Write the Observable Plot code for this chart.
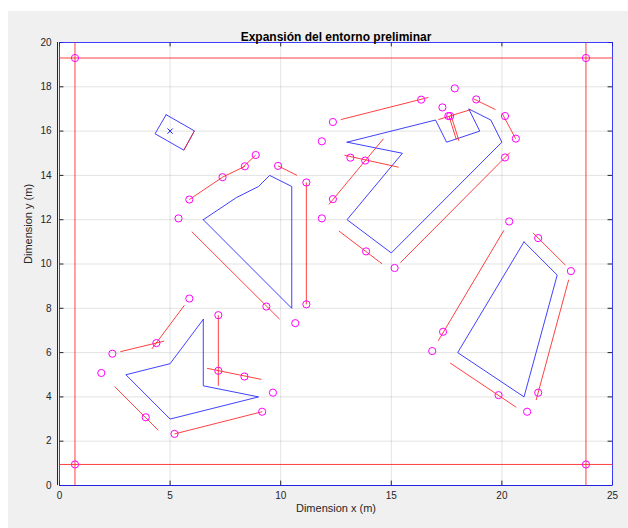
<!DOCTYPE html>
<html><head><meta charset="utf-8">
<script src="https://cdn.jsdelivr.net/npm/d3@7"></script>
<script src="https://cdn.jsdelivr.net/npm/@observablehq/plot@0.6"></script>
<style>
html,body{margin:0;padding:0;background:#ffffff;}
#chart svg{display:block;}
</style></head><body><div id="chart"></div>
<script>
const titleText = "Expansión del entorno preliminar";
const xLabel = "Dimension x (m)";
const yLabel = "Dimension y (m)";
const xTicks = [0, 5, 10, 15, 20, 25];
const yTicks = [0, 2, 4, 6, 8, 10, 12, 14, 16, 18, 20];

// Outer boundary of the environment
const boundary = [[0,0],[25,0],[25,20],[0,20]];
// Obstacles (blue polygons)
const obstacle1 = [[4.82,16.74],[6.10,16.01],[5.62,15.14],[4.32,15.88]];
const obstacle2 = [[6.5,12],[8,13],[9,13.5],[9.5,14],[10.5,13.5],[10.5,8]];
const obstacle3 = [[13,15.5],[17,16.5],[17.5,15.5],[19,16],[18.5,17],[19.5,16.5],[20,15.5],[15,10.5],[13,12],[15.5,15]];
const obstacle4 = [[6.5,7.5],[5,5.5],[3,5],[5,3],[9,4],[6.5,4.5]];
const obstacle5 = [[21,11],[22.5,9.5],[21,4],[18,6]];
const centerMarks = [[5,16]];

// Expanded edges (red segments) [x1,y1,x2,y2]
const boundaryEdges = [[0.7,0,0.7,20],[23.8,0,23.8,20],[0,0.95,25,0.95],[0,19.3,25,19.3]];
const edges1 = [[6.10,16.01,5.62,15.14]];
const edges2 = [[5.87,12.91,7.37,13.92],[7.37,13.92,8.38,14.41],[8.23,14.31,8.87,14.92],[9.88,14.43,10.74,14.0],[11.16,13.68,11.16,8.18],[5.98,11.46,9.95,7.51]];
const edges3 = [[12.72,16.52,16.68,17.52],[12.88,14.91,15.33,14.37],[12.18,12.69,14.64,15.65],[12.63,11.49,14.58,10.01],[15.41,10.06,20.36,15.03],[20.01,16.80,20.62,15.66],[18.71,17.46,19.71,16.97],[17.13,16.52,18.59,16.97],[17.69,16.74,18.06,15.56],[17.61,16.67,17.94,15.62]];
const edges4 = [[2.75,6.04,4.73,6.52],[4.17,6.16,5.65,8.14],[2.49,4.47,4.47,2.49],[5.2,2.33,9.16,3.33],[6.67,5.29,9.13,4.79],[7.18,7.69,7.18,4.5]];
const edges5 = [[20.09,11.52,17.12,6.53],[17.66,5.53,20.65,3.53],[23.02,9.29,21.55,3.86],[21.4,11.41,22.87,9.95]];

// Vertex points (magenta circles)
const pointsBoundary = [[0.7,19.3],[23.8,19.3],[0.7,0.95],[23.8,0.95]];
const points2 = [[5.87,12.91],[7.37,13.92],[8.38,14.41],[8.87,14.92],[9.88,14.43],[11.16,13.68],[11.16,8.18],[9.35,8.08],[10.66,7.33],[5.38,12.06]];
const points3 = [[12.36,16.41],[16.35,17.42],[11.86,15.54],[13.15,14.8],[13.82,14.67],[12.36,12.93],[11.86,12.06],[13.86,10.57],[15.15,9.82],[20.14,14.81],[20.63,15.66],[20.14,16.68],[18.84,17.43],[17.87,17.93],[17.31,17.07],[17.58,16.68],[17.66,16.68]];
const points4 = [[2.39,5.95],[4.38,6.43],[5.87,8.44],[1.89,5.08],[3.90,3.08],[5.2,2.33],[9.16,3.33],[9.65,4.19],[7.18,5.18],[8.36,4.92],[7.18,7.69]];
const points5 = [[20.33,11.92],[17.34,6.94],[16.85,6.07],[19.85,4.08],[21.14,3.33],[21.64,4.19],[23.12,9.68],[21.64,11.17]];

const polygons = [boundary, obstacle1, obstacle2, obstacle3, obstacle4, obstacle5];
const polyRows = polygons.flatMap((p, i) => [...p, p[0]].map(([x, y]) => ({x, y, id: i})));
const segments = [...boundaryEdges, ...edges1, ...edges2, ...edges3, ...edges4, ...edges5];
const points = [...pointsBoundary, ...points2, ...points3, ...points4, ...points5];

const font = "'Liberation Sans', Arial, Helvetica, sans-serif";
const axisColor = "#262626";

const chart = Plot.plot({
  width: 628, height: 528,
  marginLeft: 59, marginRight: 16, marginTop: 42, marginBottom: 43,
  style: {fontFamily: font, fontSize: "10px", color: axisColor},
  x: {domain: [0, 25], label: null},
  y: {domain: [0, 20], label: null},
  marks: [
    Plot.frame({fill: "white", stroke: "none"}),
    Plot.gridX(xTicks, {stroke: axisColor, strokeOpacity: 0.13}),
    Plot.gridY(yTicks, {stroke: axisColor, strokeOpacity: 0.13}),
    Plot.axisX(xTicks, {tickSize: 0, tickPadding: 6, fill: axisColor, fontSize: 10}),
    Plot.axisY(yTicks, {tickSize: 0, tickPadding: 8, fill: axisColor, fontSize: 10}),
    Plot.ruleX(xTicks, {y1: 0, y2: 0.2, stroke: axisColor}),
    Plot.ruleX(xTicks, {y1: 20, y2: 19.8, stroke: axisColor}),
    Plot.ruleY(yTicks, {x1: 0, x2: 0.2, stroke: axisColor}),
    Plot.ruleY(yTicks, {x1: 25, x2: 24.8, stroke: axisColor}),
    Plot.ruleX([0], {stroke: axisColor, dx: -2}),
    Plot.ruleY([0], {stroke: axisColor}),
    Plot.line(polyRows, {x: "x", y: "y", z: "id", stroke: "#2020ff", strokeWidth: 1, strokeOpacity: 0.85}),
    Plot.link(segments, {x1: d => d[0], y1: d => d[1], x2: d => d[2], y2: d => d[3], stroke: "#ff2020", strokeWidth: 1, strokeOpacity: 0.85}),
    Plot.dot(points, {x: d => d[0], y: d => d[1], r: 3.6, stroke: "#ff00ff", fill: "none", strokeWidth: 1}),
    Plot.dot(centerMarks, {x: d => d[0], y: d => d[1], symbol: "times", r: 2.5, stroke: "#2020ff", strokeWidth: 1}),
    Plot.text([titleText], {text: d => d, frameAnchor: "top", dy: -10, fontWeight: "bold", fontSize: 12, fill: "#000"}),
    Plot.text([xLabel], {text: d => d, frameAnchor: "bottom", dy: 26, fontSize: 11, fill: axisColor}),
    Plot.text([yLabel], {text: d => d, frameAnchor: "left", dx: -31, rotate: -90, fontSize: 11, fill: axisColor})
  ]
});
chart.style.background = "linear-gradient(#f0f0f0, #f0f0f0) 8px 11px / 100% 100% no-repeat #ffffff";
document.getElementById("chart").append(chart);
</script>
</body></html>
